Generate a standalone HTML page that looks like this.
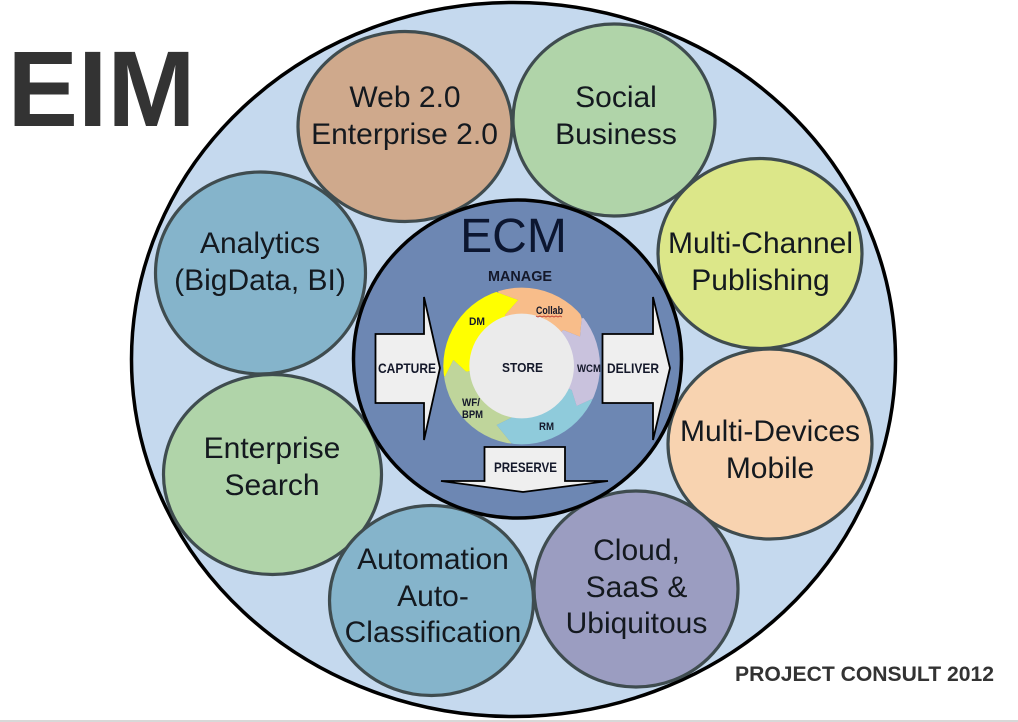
<!DOCTYPE html>
<html>
<head>
<meta charset="utf-8">
<style>
html,body{margin:0;padding:0;background:#fff;width:1018px;height:722px;overflow:hidden}
svg{display:block}
text{font-family:"Liberation Sans",Arial,sans-serif}
.l{font-size:30px;fill:#14191f;text-anchor:middle}
.s{font-weight:bold;fill:#14182a}
</style>
</head>
<body>
<svg width="1018" height="722" viewBox="0 0 1018 722" xmlns="http://www.w3.org/2000/svg">
<defs>
<clipPath id="ring"><circle cx="275" cy="258" r="235"/></clipPath>
</defs>
<rect width="1018" height="722" fill="#fff"/>
<rect x="0" y="720" width="1018" height="2" fill="#d8d8d8"/>

<text x="7.500" y="126" font-size="108" font-weight="bold" fill="#333333" textLength="188" lengthAdjust="spacingAndGlyphs">EIM</text>
<text x="735" y="681" font-size="21" font-weight="bold" fill="#333333" textLength="259" lengthAdjust="spacingAndGlyphs">PROJECT CONSULT 2012</text>

<ellipse cx="513.5" cy="359.5" rx="382" ry="357" fill="#c5d9ee" stroke="#000" stroke-width="3.5"/>

<g stroke="#3f4c4f" stroke-width="3.2">
<ellipse cx="405" cy="126.500" rx="107" ry="95" fill="#cfa98c"/>
<ellipse cx="614" cy="120" rx="101" ry="96" fill="#b0d4a9"/>
<ellipse cx="760" cy="253.500" rx="102" ry="95" fill="#dce789"/>
<ellipse cx="770" cy="444" rx="102" ry="95" fill="#f8d3b0"/>
<ellipse cx="272.500" cy="474.500" rx="109" ry="100" fill="#b0d4a9"/>
<ellipse cx="260.500" cy="273" rx="105" ry="101" fill="#85b4cb"/>
<ellipse cx="636" cy="589" rx="102" ry="98" fill="#9b9dc1"/>
<ellipse cx="431.500" cy="600.500" rx="102" ry="95" fill="#85b4cb"/>
</g>

<ellipse cx="517.500" cy="359" rx="164" ry="159" fill="#6d87b3" stroke="#000" stroke-width="3.5"/>

<!-- ring segments -->
<g transform="translate(430 280) scale(0.33333)">
<g clip-path="url(#ring)">
<polygon fill="#ffff00" points="275,258 225,105 265,60 205,38 100,0 -20,200 20,290 45,290 70,240 108,275"/>
<polygon fill="#bfd59b" points="275,258 108,275 70,240 45,290 0,300 0,520 245,490 200,435 250,410"/>
<polygon fill="#8fcbdb" points="275,258 250,410 200,435 245,490 300,520 530,520 530,340 490,355 440,378 425,330"/>
<polygon fill="#c9c2dd" points="275,258 425,330 440,378 490,355 530,340 530,100 455,115 450,170 400,150"/>
<polygon fill="#f8bd8a" points="275,258 400,150 450,170 455,115 420,0 200,0 205,38 265,60 225,105"/>
</g>
<circle cx="275" cy="258" r="157" fill="#ebebeb"/>
</g>

<!-- arrows -->
<g fill="#efefef" stroke="#000" stroke-width="1.800" stroke-linejoin="miter">
<polygon points="375.500,334 424,334 424,297 440,368 424,440 424,403 375.500,403"/>
<polygon points="602.500,334 653,334 653,297 670,368 653,440 653,403 602.500,403"/>
<polygon points="484.500,447 565,447 565,481 608,481 523,492 441,481 484.500,481"/>
</g>

<!-- labels -->
<g class="l">
<text class="l" x="405" y="107">Web 2.0</text>
<text class="l" x="404.500" y="144">Enterprise 2.0</text>
<text class="l" x="616" y="107">Social</text>
<text class="l" x="616" y="144">Business</text>
<text class="l" x="760.500" y="253">Multi-Channel</text>
<text class="l" x="760.500" y="290">Publishing</text>
<text class="l" x="260" y="253">Analytics</text>
<text class="l" x="260" y="290">(BigData, BI)</text>
<text class="l" x="272" y="458">Enterprise</text>
<text class="l" x="272" y="495">Search</text>
<text class="l" x="433" y="569">Automation</text>
<text class="l" x="433" y="606">Auto-</text>
<text class="l" x="433" y="642">Classification</text>
<text class="l" x="770" y="441">Multi-Devices</text>
<text class="l" x="770" y="478">Mobile</text>
<text class="l" x="636.500" y="560">Cloud,</text>
<text class="l" x="636.500" y="597">SaaS &amp;</text>
<text class="l" x="636.500" y="633">Ubiquitous</text>
</g>
<text x="513.500" y="252" font-size="48" text-anchor="middle" fill="#0c1630">ECM</text>

<g class="s">
<text class="s" x="488" y="281" font-size="15" textLength="64" lengthAdjust="spacingAndGlyphs" fill="#0f1b3a">MANAGE</text>
<text class="s" x="378" y="373" font-size="14" textLength="58" lengthAdjust="spacingAndGlyphs">CAPTURE</text>
<text class="s" x="607" y="373" font-size="14" textLength="52" lengthAdjust="spacingAndGlyphs">DELIVER</text>
<text class="s" x="494" y="472" font-size="14" textLength="63" lengthAdjust="spacingAndGlyphs">PRESERVE</text>
<text class="s" x="502" y="372" font-size="13" textLength="41" lengthAdjust="spacingAndGlyphs">STORE</text>
<text class="s" x="536" y="314" font-size="11" textLength="27" lengthAdjust="spacingAndGlyphs">Collab</text>
<text class="s" x="469" y="325" font-size="11" textLength="16" lengthAdjust="spacingAndGlyphs">DM</text>
<text class="s" x="577" y="372" font-size="11" textLength="24" lengthAdjust="spacingAndGlyphs">WCM</text>
<text class="s" x="462" y="406" font-size="11" textLength="18" lengthAdjust="spacingAndGlyphs">WF/</text>
<text class="s" x="462" y="418" font-size="11" textLength="21" lengthAdjust="spacingAndGlyphs">BPM</text>
<text class="s" x="539" y="430" font-size="11" textLength="15" lengthAdjust="spacingAndGlyphs">RM</text>
</g>
<polyline points="536,316 538,317 540,316 542,317 544,316 546,317 548,316 550,317 552,316 554,317 556,316 558,317 560,316 562,317" fill="none" stroke="#c0392b" stroke-width="0.800"/>
</svg>
</body>
</html>
